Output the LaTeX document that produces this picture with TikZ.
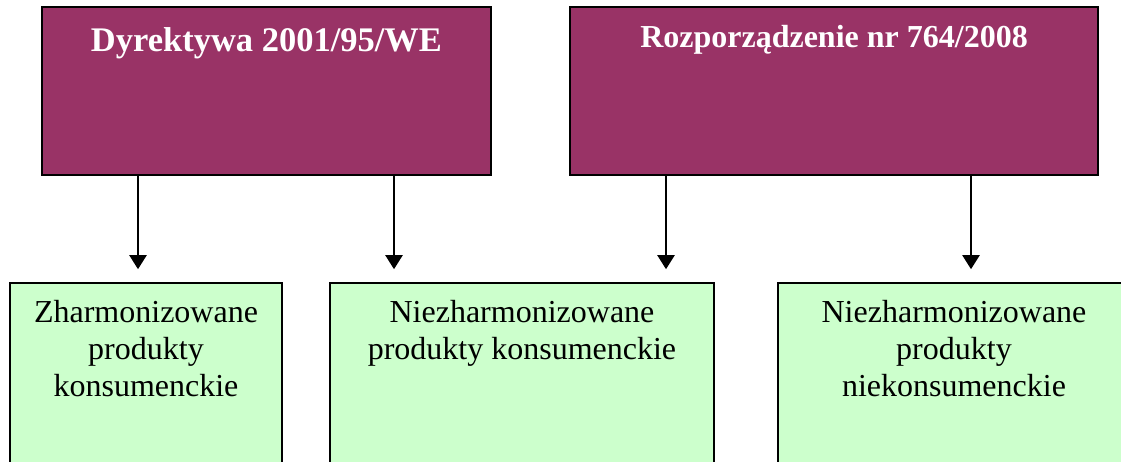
\documentclass[tikz,border=0pt]{standalone}
\usepackage{fontspec}
\setmainfont{Liberation Serif}
\usetikzlibrary{arrows.meta,positioning}
\definecolor{plum}{HTML}{993366}
\definecolor{mint}{HTML}{CCFFCC}

\begin{document}
\begin{tikzpicture}[
            x=1pt, y=-1pt,
            lawnode/.style={rectangle, draw=black, line width=2pt, fill=plum, inner sep=0pt},
            productnode/.style={rectangle, draw=black, line width=1.6pt, fill=mint, inner sep=0pt},
            lawtitle/.style={text=white, inner sep=0pt, font=\bfseries\fontsize{34.5}{40}\selectfont},
            producttext/.style={inner sep=0pt, align=center, font=\fontsize{32}{37}\selectfont},
            flow/.style={line width=2.2pt, -{Triangle[width=17pt,length=14pt]}}
          ]
          \useasboundingbox (0,0) rectangle (1121,461);
          \clip (0,0) rectangle (1121,461);

          %Nodes
          \node[lawnode, minimum width=449pt, minimum height=168pt] at (266.5,91) (A) {};
          \node[lawnode, minimum width=528pt, minimum height=168pt] at (834,91) (B) {};
          \node[productnode, minimum width=272pt, minimum height=197pt] at (146,381.5) (C) {};
          \node[productnode, minimum width=384pt, minimum height=197pt] at (522,381.5) (D) {};
          \node[productnode, minimum width=352pt, minimum height=197pt] at (954,381.5) (E) {};

          %Texts
          \node[lawtitle, anchor=north, below=21pt of A.north] (At) {Dyrektywa 2001/95/WE};
          \node[lawtitle, font=\bfseries\fontsize{32}{37}\selectfont, below=19pt of B.north] (Bt) {Rozporządzenie nr 764/2008};
          \node[producttext, below=18pt of C.north] (Ct) {Zharmonizowane\\produkty\\konsumenckie};
          \node[producttext, below=18pt of D.north] (Dt) {Niezharmonizowane\\produkty konsumenckie};
          \node[producttext, below=18pt of E.north] (Et) {Niezharmonizowane\\produkty\\niekonsumenckie};

          %Lines
          \draw[flow] ([xshift=-128.5pt]A.south) -- ([xshift=-8pt,yshift=13pt]C.north);
          \draw[flow] ([xshift=127.5pt]A.south) -- ([xshift=-128pt,yshift=13pt]D.north);
          \draw[flow] ([xshift=-168pt]B.south) -- ([xshift=144pt,yshift=13pt]D.north);
          \draw[flow] ([xshift=137pt]B.south) -- ([xshift=17pt,yshift=13pt]E.north);

        \end{tikzpicture}
\end{document}
